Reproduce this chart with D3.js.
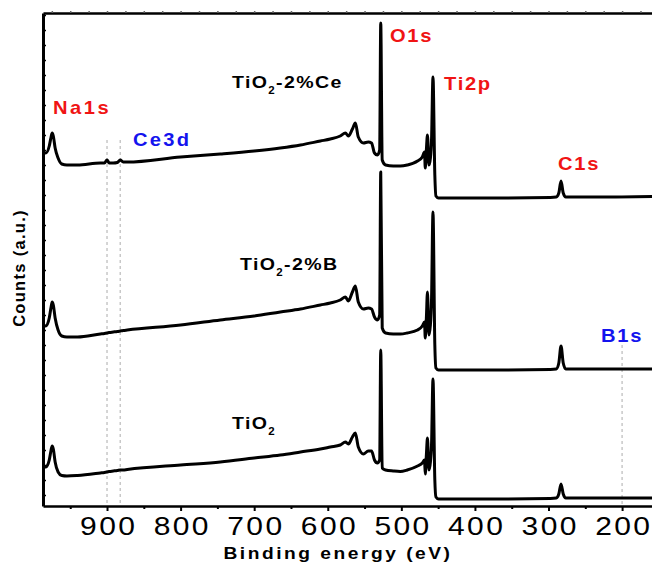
<!DOCTYPE html>
<html>
<head>
<meta charset="utf-8">
<script src="https://cdn.jsdelivr.net/npm/d3@7"></script>
<style>
  body { margin: 0; background: #fff; }
</style>
</head>
<body>
<div id="chart"></div>
<script>
// binding energy grid (eV), shared by the three survey spectra
const energy = [988, 983, 978.5, 976, 974.5, 973, 970.5, 966.5, 961.5, 954.5,
  940, 909, 903.5, 900, 897, 891.5, 886, 882, 878, 872.5,
  800, 746, 700, 664.5, 637, 610, 596.5, 583, 576, 572,
  566.5, 562.5, 558.5, 551.5, 545, 540.5, 536.5, 532.5, 529.5, 528,
  526, 521.5, 511, 501.5, 492, 478, 471.5, 468.5, 467.5, 466,
  464.5, 462.5, 460.5, 459, 457, 454.5, 453, 449.5, 365.5, 297.5,
  289.5, 286, 283, 280, 276.5, 229.5, 159];

// counts (a.u.), already stacked
const countsCe = [354, 353, 360, 369, 373, 370, 358, 348, 342, 341,
  341, 343, 343, 346, 343, 343, 343.5, 346, 344, 344,
  349, 352, 355, 358, 361, 365, 367, 370, 373, 370,
  377, 383, 369, 363, 364, 363, 353, 351, 356, 483,
  346, 341, 340, 340, 341, 345, 349, 354, 338, 356,
  371, 341, 348, 366, 429, 331, 310, 308, 308, 308.5,
  309, 313, 325, 313, 309, 309, 309.5];

const countsB = [181, 180, 188, 199, 204, 201, 188, 176, 170, 169,
  169, 172, 172.5, 173, 173.5, 174, 174.5, 175, 175.5, 176,
  181, 186, 190, 194, 197, 201, 203, 206, 209, 205,
  214, 220, 204, 197, 198, 197, 189, 186, 191, 334,
  178, 173, 172, 172, 173, 176, 180, 184, 168, 188,
  214, 171, 181, 206, 294, 161, 138, 136, 136, 136.5,
  137, 143, 160, 143, 137, 137, 137];

const countsTiO2 = [39, 39, 46, 56, 60, 57, 44, 34, 30.5, 30,
  30.5, 33, 33.5, 34, 34.5, 35, 35.5, 36, 36, 36.5,
  41, 44, 48, 51, 54, 57, 59, 61, 64, 62,
  69, 73, 59, 52, 55, 55, 46, 43, 46, 156,
  38, 36, 35, 34.5, 36, 40, 43, 46, 32, 51,
  68, 36, 44, 61, 127, 26, 9, 7, 7, 7.5,
  8, 12, 22, 12, 8, 8, 8];

const xTicks = [900, 800, 700, 600, 500, 400, 300, 200];
const ceLines = [900, 882];
const bLines = [200];

const W = 652, H = 565;
const FONT = "'Liberation Sans', Arial, Helvetica, sans-serif";

const svg = d3.select("#chart").append("svg")
  .attr("width", W)
  .attr("height", H);

const x = d3.scaleLinear().domain([987, 158]).range([43, 653]);
const y = d3.scaleLinear().domain([0, 493]).range([506, 13]);

svg.append("clipPath").attr("id", "plotclip")
  .append("rect").attr("x", 42).attr("y", 0).attr("width", W - 42).attr("height", 506);

// grey dashed guide lines
const guides = svg.append("g")
  .attr("stroke", "#c8c8c8")
  .attr("stroke-width", 1.5)
  .attr("stroke-dasharray", "3,3");
guides.selectAll(".ce").data(ceLines).enter().append("line")
  .attr("x1", d => x(d)).attr("x2", d => x(d))
  .attr("y1", y(366)).attr("y2", y(0));
guides.selectAll(".b").data(bLines).enter().append("line")
  .attr("x1", d => x(d)).attr("x2", d => x(d))
  .attr("y1", y(161)).attr("y2", y(0));

// spectra
const line = d3.line()
  .x((d, i) => x(energy[i]))
  .y(d => y(d))
  .curve(d3.curveMonotoneX);

svg.append("g").attr("clip-path", "url(#plotclip)")
  .selectAll("path")
  .data([countsCe, countsB, countsTiO2])
  .enter().append("path")
  .attr("d", line)
  .attr("fill", "none")
  .attr("stroke", "#000")
  .attr("stroke-width", 3)
  .attr("stroke-linejoin", "round");

// axes
const xAxisG = svg.append("g").attr("transform", "translate(0,506)")
  .call(d3.axisBottom(x).tickValues(xTicks).tickSize(5).tickSizeOuter(0).tickPadding(0));
xAxisG.select(".domain").attr("stroke-width", 2.5);
xAxisG.selectAll(".tick line").attr("stroke-width", 2);
xAxisG.selectAll(".tick text")
  .attr("y", 29).attr("dy", null)
  .attr("dx", 1)
  .attr("font-family", FONT)
  .attr("font-size", 25)
  .attr("letter-spacing", 2)
  .attr("transform", "scale(1.2,1)")
  .attr("fill", "#000");

svg.append("g").attr("transform", "translate(0,506)")
  .call(d3.axisBottom(x).tickValues(d3.range(950, 150, -100)).tickSize(3).tickFormat(""))
  .call(g => g.select(".domain").remove())
  .selectAll(".tick line").attr("stroke-width", 2);

const topAxisG = svg.append("g").attr("transform", "translate(0,13)")
  .call(d3.axisTop(x).tickValues(d3.range(975, 158, -25)).tickSize(2).tickSizeOuter(0).tickFormat(""));
topAxisG.select(".domain").attr("stroke-width", 2.5);
topAxisG.selectAll(".tick line").attr("stroke", "#666").attr("stroke-width", 1.5);

const yAxisG = svg.append("g").attr("transform", "translate(43,0)")
  .call(d3.axisRight(y).tickValues(d3.range(11, 493, 15)).tickSize(3).tickSizeOuter(0).tickFormat(""));
yAxisG.select(".domain").attr("stroke-width", 3);
yAxisG.selectAll(".tick line").attr("stroke-width", 1.5);

// text helper: parts can carry subscripts
function label(x0, y0, parts, o) {
  const t = svg.append("text")
    .attr("transform", `translate(${x0},${y0}) ${o.rotate ? "rotate(" + o.rotate + ")" : ""} scale(${o.sx || 1.2},1)`)
    .attr("font-family", FONT)
    .attr("font-size", o.size)
    .attr("font-weight", o.weight || "bold")
    .attr("fill", o.color || "#000")
    .attr("letter-spacing", o.ls || 0)
    .attr("text-anchor", o.anchor || "start");
  parts.forEach(p => {
    t.append("tspan").text(p.t)
      .attr("font-size", p.sub ? 10 : null)
      .attr("dy", p.dy || 0);
  });
  return t;
}

// axis titles
label(338, 559, [{ t: "Binding energy (eV)" }], { size: 16, ls: 2.1, anchor: "middle" });
label(25, 268, [{ t: "Counts (a.u.)" }], { size: 16.5, ls: 1.3, anchor: "middle", rotate: -90, sx: 1 });

// sample names
label(232, 88, [{ t: "TiO" }, { t: "2", sub: true, dy: 6 }, { t: "-2%Ce", dy: -6 }], { size: 17, ls: 1.2, sx: 1.15 });
label(240, 270, [{ t: "TiO" }, { t: "2", sub: true, dy: 6 }, { t: "-2%B", dy: -6 }], { size: 17, ls: 1.2, sx: 1.15 });
label(232, 429, [{ t: "TiO" }, { t: "2", sub: true, dy: 6 }], { size: 17, ls: 1.2, sx: 1.15 });

// peak names
label(53, 114, [{ t: "Na1s" }], { size: 17.5, ls: 2.2, color: "#f01414", sx: 1.15 });
label(133, 146, [{ t: "Ce3d" }], { size: 17.5, ls: 2, color: "#1414ee", sx: 1.15 });
label(390, 42, [{ t: "O1s" }], { size: 17.5, ls: 1.5, color: "#f01414", sx: 1.15 });
label(444, 90, [{ t: "Ti2p" }], { size: 17.5, ls: 1.5, color: "#f01414", sx: 1.15 });
label(558, 170, [{ t: "C1s" }], { size: 17.5, ls: 1.5, color: "#f01414", sx: 1.15 });
label(601, 342, [{ t: "B1s" }], { size: 17.5, ls: 1.5, color: "#1414ee", sx: 1.15 });
</script>
</body>
</html>
